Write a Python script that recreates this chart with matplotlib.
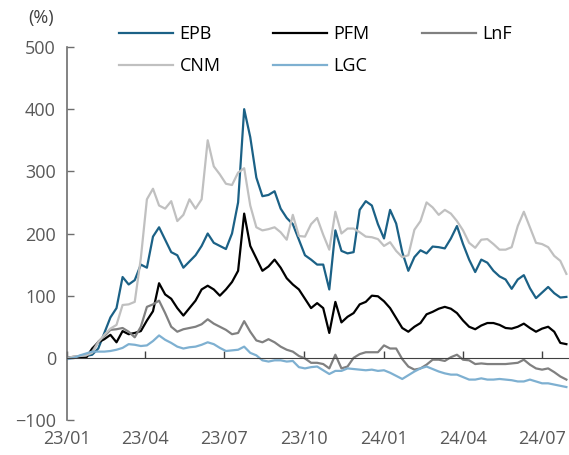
import numpy as np
import pandas as pd
import matplotlib
matplotlib.use("Agg")
from matplotlib import pyplot as plt
import matplotlib.dates as mdates

plt.rcParams['font.family'] = ['Open Sans', 'DejaVu Sans']

# weekly observations, cumulative return in %
dates = pd.date_range("2023-01-02", periods=83, freq="7D")

EPB = [0, 1, 2, 3, 5, 15, 40, 65, 80, 130,
       118, 125, 150, 145, 195, 210, 190, 170, 165, 145,
       155, 165, 180, 200, 185, 180, 175, 200, 250, 400,
       355, 290, 260, 262, 268, 240, 225, 215, 190, 165,
       158, 150, 150, 110, 205, 172, 168, 170, 238, 252,
       245, 215, 192, 238, 216, 170, 140, 162, 173, 168,
       179, 178, 176, 192, 212, 183, 158, 138, 158, 153,
       140, 131, 126, 111, 126, 133, 112, 96, 105, 114,
       104, 97, 98]
PFM = [0, 0, 0, 0, 15, 25, 30, 37, 25, 43,
       38, 40, 43, 60, 75, 120, 102, 95, 80, 68,
       80, 92, 110, 116, 110, 100, 110, 122, 140, 232,
       180, 160, 140, 147, 158, 145, 128, 118, 110, 95,
       80, 88, 80, 40, 90, 57, 66, 72, 86, 90,
       100, 99, 91, 80, 64, 48, 42, 50, 56, 70,
       74, 79, 82, 79, 72, 60, 50, 46, 52, 56,
       56, 53, 48, 47, 50, 55, 48, 42, 47, 50,
       42, 24, 22]
LnF = [0, 2, 3, 4, 10, 26, 35, 45, 46, 48,
       42, 33, 50, 82, 86, 92, 72, 50, 42, 46,
       48, 50, 54, 62, 55, 50, 45, 38, 40, 59,
       42, 28, 25, 30, 25, 18, 13, 10, 3, -1,
       -8, -8, -10, -17, 5, -17, -14, 0, 6, 9,
       9, 9, 20, 15, 15, -2, -14, -19, -17, -11,
       -3, -3, -5, 1, 5, -3, -4, -10, -9, -10,
       -10, -10, -10, -9, -8, -3, -11, -17, -19, -17,
       -23, -30, -35]
CNM = [0, 2, 3, 4, 8, 25, 37, 47, 53, 85,
       86, 90, 160, 255, 272, 245, 240, 252, 220, 230,
       255, 240, 255, 350, 308, 295, 280, 278, 298, 305,
       245, 210, 205, 207, 210, 202, 190, 230, 196, 195,
       215, 225, 198, 174, 235, 200, 208, 208, 202, 195,
       194, 191, 180, 186, 172, 162, 165, 206, 220, 250,
       242, 230, 238, 232, 220, 205, 185, 177, 190, 191,
       183, 174, 174, 178, 212, 235, 210, 185, 183, 178,
       164, 156, 135]
LGC = [-2, 0, 4, 7, 10, 10, 10, 11, 13, 16,
       22, 21, 19, 20, 27, 36, 29, 24, 18, 15,
       17, 18, 21, 25, 22, 16, 11, 12, 13, 18,
       8, 4, -4, -6, -4, -4, -6, -5, -15, -17,
       -15, -14, -20, -26, -21, -21, -17, -18, -19, -20,
       -19, -21, -20, -24, -29, -34, -28, -22, -17, -14,
       -18, -22, -25, -27, -27, -31, -35, -35, -33, -35,
       -35, -34, -35, -36, -38, -38, -35, -38, -41, -41,
       -43, -45, -47]

series = [("EPB", EPB, "#1b6186"),
          ("PFM", PFM, "#000000"),
          ("LnF", LnF, "#808080"),
          ("CNM", CNM, "#c0c0c0"),
          ("LGC", LGC, "#7eb0d1")]

fig = plt.figure(figsize=(5.69, 4.55), dpi=100)
ax = fig.add_axes([67 / 569, 35 / 455, 502 / 569, 373 / 455])

lines = {}
for name, vals, col in series:
    lines[name], = ax.plot(dates, vals, color=col, lw=1.6, label=name)

ax.set_ylim(-100, 500)
ax.set_yticks(range(-100, 501, 100))
ax.set_xlim(pd.Timestamp("2023-01-01"), pd.Timestamp("2024-08-01"))
ax.xaxis.set_major_locator(mdates.MonthLocator(bymonth=[1, 4, 7, 10]))
ax.xaxis.set_major_formatter(mdates.DateFormatter("%y/%m"))

ax.spines["top"].set_visible(False)
ax.spines["right"].set_visible(False)
ax.spines["bottom"].set_position(("data", 0))
ax.spines["bottom"].set_color("#404040")
ax.spines["left"].set_color("#6e6e6e")
ax.spines["left"].set_linewidth(1.2)

ax.tick_params(axis="y", direction="in", length=5, width=1, color="#6e6e6e",
               labelcolor="#595959", labelsize=13, pad=8)
ax.tick_params(axis="x", direction="in", length=5, width=1, color="#404040",
               labelcolor="#595959", labelsize=13, pad=52)

fig.text(28 / 569, 1 - 18 / 455, "(%)", fontsize=13, color="#404040",
         ha="left", va="center")

# legend fills column-wise, so order entries to read row-wise
order = ["EPB", "CNM", "PFM", "LGC", "LnF"]
fig.legend([lines[k] for k in order], order,
           loc="upper left", bbox_to_anchor=(119 / 569, 1 - 25 / 455),
           ncol=3, frameon=False, fontsize=13, handlelength=3.0,
           handletextpad=0.35, columnspacing=2.9, labelspacing=0.8,
           borderpad=0, borderaxespad=0)

fig.savefig("out.png", dpi=100)
